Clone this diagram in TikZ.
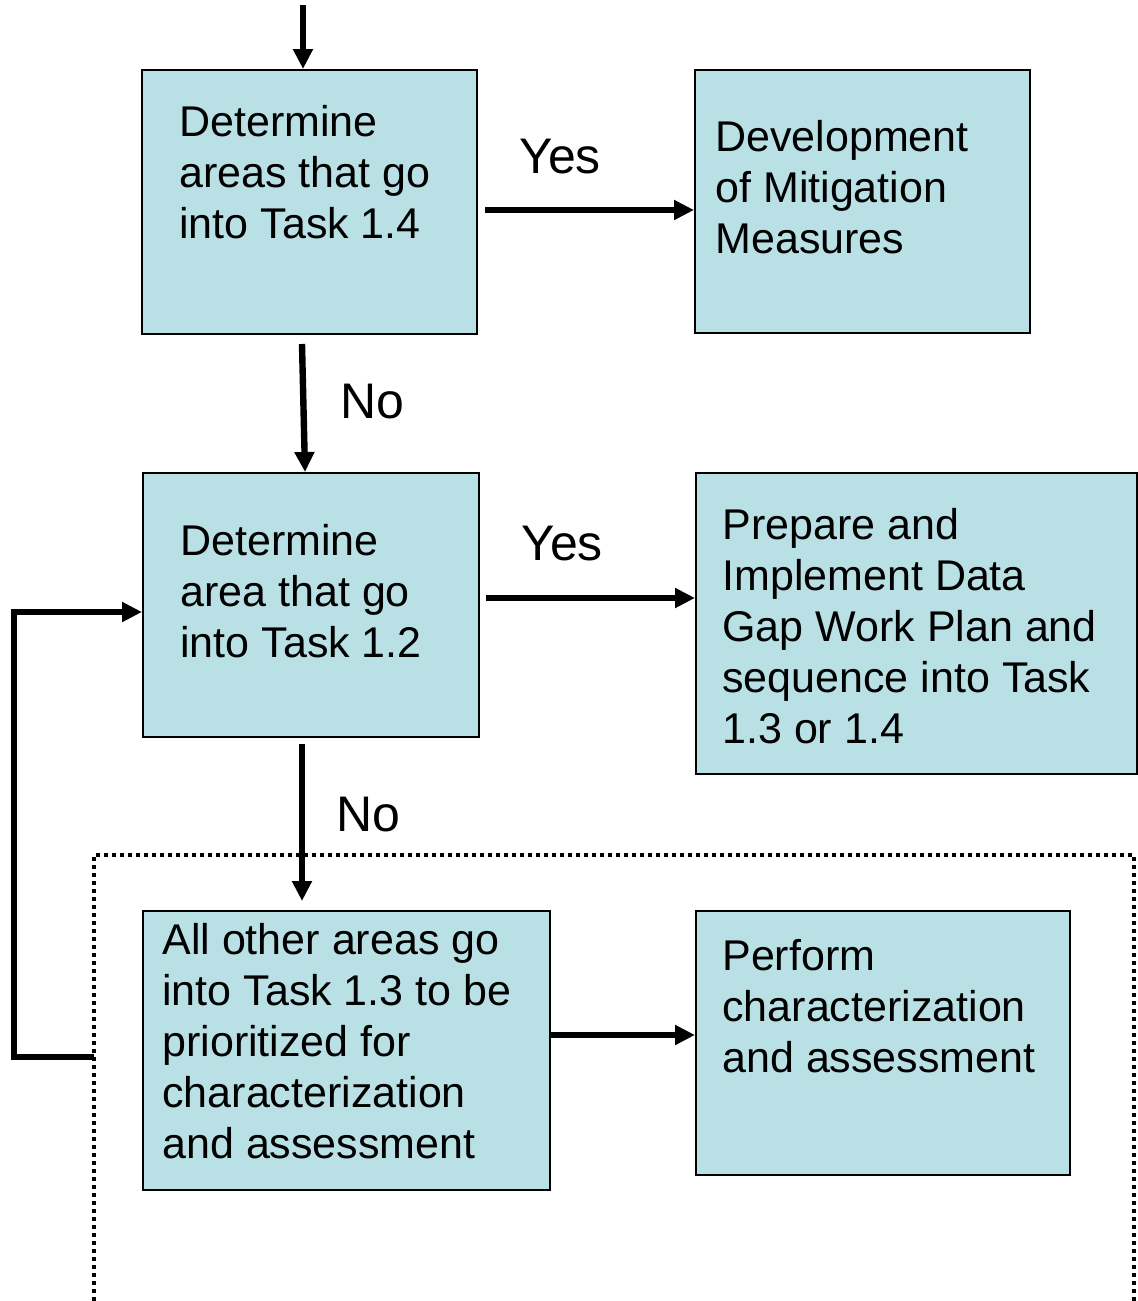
\documentclass[tikz,border=0pt]{standalone}
\usepackage{fontspec}
\setmainfont{Liberation Sans}
\usetikzlibrary{arrows.meta}
\definecolor{boxblue}{RGB}{185,224,228}
\tikzset{
	box/.style={draw, fill=boxblue, line width=1pt, inner sep=0pt},
	boxtext/.style={anchor=base west, align=left, inner sep=0pt, font=\fontsize{21.5}{25.5}\selectfont},
	answer/.style={anchor=base, inner sep=0pt, font=\fontsize{25}{30}\selectfont},
	flow/.style={line width=3.2pt, -{Triangle[length=10pt,width=9.5pt]}},
	frame/.style={line width=2pt, dash pattern=on 2pt off 2pt}
}

\begin{document}
\begin{tikzpicture}[x=0.5pt,y=-0.5pt]
	\useasboundingbox (0,0) rectangle (1138,1301);
	% dotted frame round the last step
	\draw[frame] (94,1301) |- (1134,855) -- (1134,1301);
	% boxes
	\node[box, minimum width=167.5pt, minimum height=132pt] (det1) at (309.5,202) {};
	\node[box, minimum width=167.5pt, minimum height=131.5pt] (dev) at (862.5,201.5) {};
	\node[box, minimum width=168pt, minimum height=132pt] (det2) at (311,605) {};
	\node[box, minimum width=220.5pt, minimum height=150.5pt] (prep) at (916.5,623.5) {};
	\node[box, minimum width=203.5pt, minimum height=139.5pt] (other) at (346.5,1050.5) {};
	\node[box, minimum width=187pt, minimum height=132pt] (perf) at (883,1043) {};
	% texts inside boxes (placed at the baseline of the last line)
	\node[boxtext] (det1txt) at (179,238) {Determine\\areas that go\\into Task 1.4};
	\node[boxtext] (devtxt) at (715,253) {Development\\of Mitigation\\Measures};
	\node[boxtext] (det2txt) at (180,657) {Determine\\area that go\\into Task 1.2};
	\node[boxtext] (preptxt) at (722,743) {Prepare and\\Implement Data\\Gap Work Plan and\\sequence into Task\\1.3 or 1.4};
	\node[boxtext] (othertxt) at (162,1158) {All other areas go\\into Task 1.3 to be\\prioritized for\\characterization\\and assessment};
	\node[boxtext] (perftxt) at (722,1072) {Perform\\characterization\\and assessment};
	% yes / no
	\node[answer] (yes1) at (560,173) {Yes};
	\node[answer] (no1) at (372,418) {No};
	\node[answer] (yes2) at (562,560) {Yes};
	\node[answer] (no2) at (368,831) {No};
	% arrows
	\coordinate (start) at (303,5);
	\draw[flow] (start) -- (start |- det1.north);
	\draw[flow] ([shift={(7,8)}]det1.east) -- ([yshift=-4.25pt]dev.west);
	\draw[flow] ([shift={(-7.5,9)}]det1.south) -- ([xshift=-3pt]det2.north);
	\draw[flow] ([shift={(6,-7)}]det2.east) -- ([yshift=12.75pt]prep.west);
	\draw[flow] ([shift={(-9,6)}]det2.south) -- ([shift={(-44.5,-9)}]other.north);
	\draw[flow] ([yshift=7.75pt]other.east) -- ([yshift=4pt]perf.west);
	% back to task 1.2
	\coordinate (back) at (94,1057);
	\draw[flow] (back) -- ++(-80,0) |- ([yshift=-3.5pt]det2.west);
\end{tikzpicture}
\end{document}
